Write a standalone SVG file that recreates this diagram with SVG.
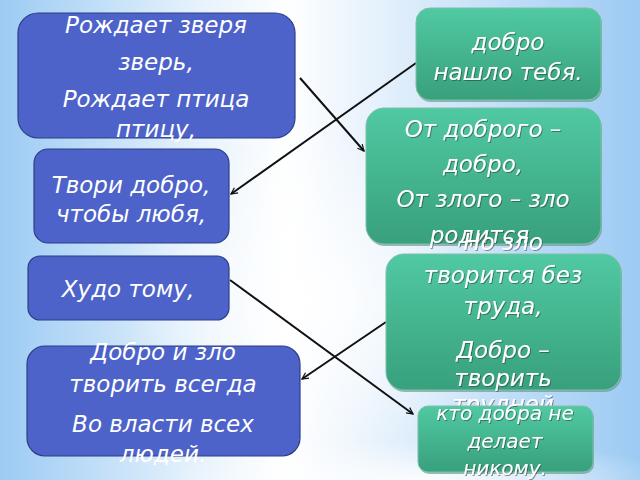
<svg xmlns="http://www.w3.org/2000/svg" width="640" height="480" viewBox="0 0 640 480">
<defs>
<linearGradient id="bg" x1="0" y1="0" x2="1" y2="0">
<stop offset="0" stop-color="#9ccbf4"/>
<stop offset="0.3" stop-color="#e4f1fc"/>
<stop offset="0.45" stop-color="#ffffff"/>
<stop offset="0.62" stop-color="#e0eefb"/>
<stop offset="1" stop-color="#9ccaf3"/>
</linearGradient>
<radialGradient id="sw" cx="0.5" cy="0.5" r="0.5">
<stop offset="0" stop-color="#ffffff" stop-opacity="0.9"/>
<stop offset="1" stop-color="#ffffff" stop-opacity="0"/>
</radialGradient>
<linearGradient id="gr" x1="0" y1="0" x2="0" y2="1">
<stop offset="0" stop-color="#50c9a2"/>
<stop offset="1" stop-color="#38a07c"/>
</linearGradient>
<filter id="ts" x="-10%" y="-20%" width="120%" height="150%">
<feDropShadow dx="1" dy="1" stdDeviation="0.6" flood-color="#1b3030" flood-opacity="0.5"/>
</filter>
<marker id="ah" viewBox="0 0 10 10" refX="9" refY="5" markerWidth="8" markerHeight="8" orient="auto" markerUnits="userSpaceOnUse">
<path d="M1,1 L9,5 L1,9" fill="none" stroke="#111" stroke-width="1.5"/>
</marker>
<style>
.blue{fill:#4d63c9;stroke:#2d3f86;stroke-width:1.2}
.green{fill:url(#gr);stroke:#7fbfa8;stroke-width:1}
.gsh{fill:#5c8f82;opacity:0.6}
text{font-family:"DejaVu Sans","Noto Sans",sans-serif;font-style:italic;fill:#ffffff;text-anchor:middle;font-size:23px}
.sm{font-size:20px}
.con{stroke:#111;stroke-width:2;fill:none;marker-end:url(#ah)}
</style>
</defs>
<rect width="640" height="480" fill="url(#bg)"/>
<ellipse cx="320" cy="300" rx="200" ry="170" fill="url(#sw)"/>
<ellipse cx="420" cy="480" rx="260" ry="40" fill="url(#sw)"/>

<g id="connectors">
<line class="con" x1="300" y1="78" x2="364" y2="151"/>
<line class="con" x1="416" y1="63" x2="231" y2="194"/>
<line class="con" x1="230" y1="280" x2="413" y2="414"/>
<line class="con" x1="386" y1="322" x2="302" y2="379"/>
</g>

<g id="n1">
<rect class="blue" x="18" y="13" width="277" height="125" rx="20"/>
<text x="156" y="33">Рождает зверя</text>
<text x="156" y="70">зверь,</text>
<text x="156" y="107">Рождает птица</text>
<text x="156" y="137">птицу,</text>
</g>

<g id="n2">
<rect class="gsh" x="417" y="10" width="185" height="92" rx="14"/>
<rect class="green" x="416" y="8" width="185" height="92" rx="14"/>
<text x="508" y="50" filter="url(#ts)">добро</text>
<text x="508" y="80" filter="url(#ts)">нашло тебя.</text>
</g>

<g id="n3">
<rect class="gsh" x="367" y="110" width="235" height="136" rx="18"/>
<rect class="green" x="366" y="108" width="235" height="136" rx="18"/>
<text x="483" y="137" filter="url(#ts)">От доброго –</text>
<text x="483" y="172" filter="url(#ts)">добро,</text>
<text x="483" y="207" filter="url(#ts)">От злого – зло</text>
<text x="483" y="243" filter="url(#ts)">родится.</text>
</g>

<g id="n4">
<rect class="blue" x="34" y="149" width="195" height="94" rx="14"/>
<text x="131" y="193">Твори добро,</text>
<text x="131" y="222">чтобы любя,</text>
</g>

<g id="n5">
<rect class="blue" x="28" y="256" width="201" height="64" rx="12"/>
<text x="128" y="297">Худо тому,</text>
</g>

<g id="n6">
<rect class="gsh" x="387" y="256" width="235" height="136" rx="18"/>
<rect class="green" x="386" y="254" width="235" height="136" rx="18"/>
<text x="503" y="250" filter="url(#ts)">Но зло</text>
<text x="503" y="283" filter="url(#ts)">творится без</text>
<text x="503" y="314" filter="url(#ts)">труда,</text>
<text x="503" y="358" filter="url(#ts)">Добро –</text>
<text x="503" y="386" filter="url(#ts)">творить</text>
<text x="503" y="412" filter="url(#ts)">трудней</text>
</g>

<g id="n7">
<rect class="gsh" x="419" y="408" width="175" height="66" rx="10"/>
<rect class="green" x="418" y="406" width="175" height="66" rx="10"/>
<text class="sm" x="505" y="420" filter="url(#ts)">кто добра не</text>
<text class="sm" x="505" y="448" filter="url(#ts)">делает</text>
<text class="sm" x="505" y="475" filter="url(#ts)">никому.</text>
</g>

<g id="n8">
<rect class="blue" x="27" y="346" width="273" height="110" rx="18"/>
<text x="163" y="360">Добро и зло</text>
<text x="163" y="392">творить всегда</text>
<text x="163" y="432">Во власти всех</text>
<text x="163" y="462">людей.</text>
</g>
</svg>
